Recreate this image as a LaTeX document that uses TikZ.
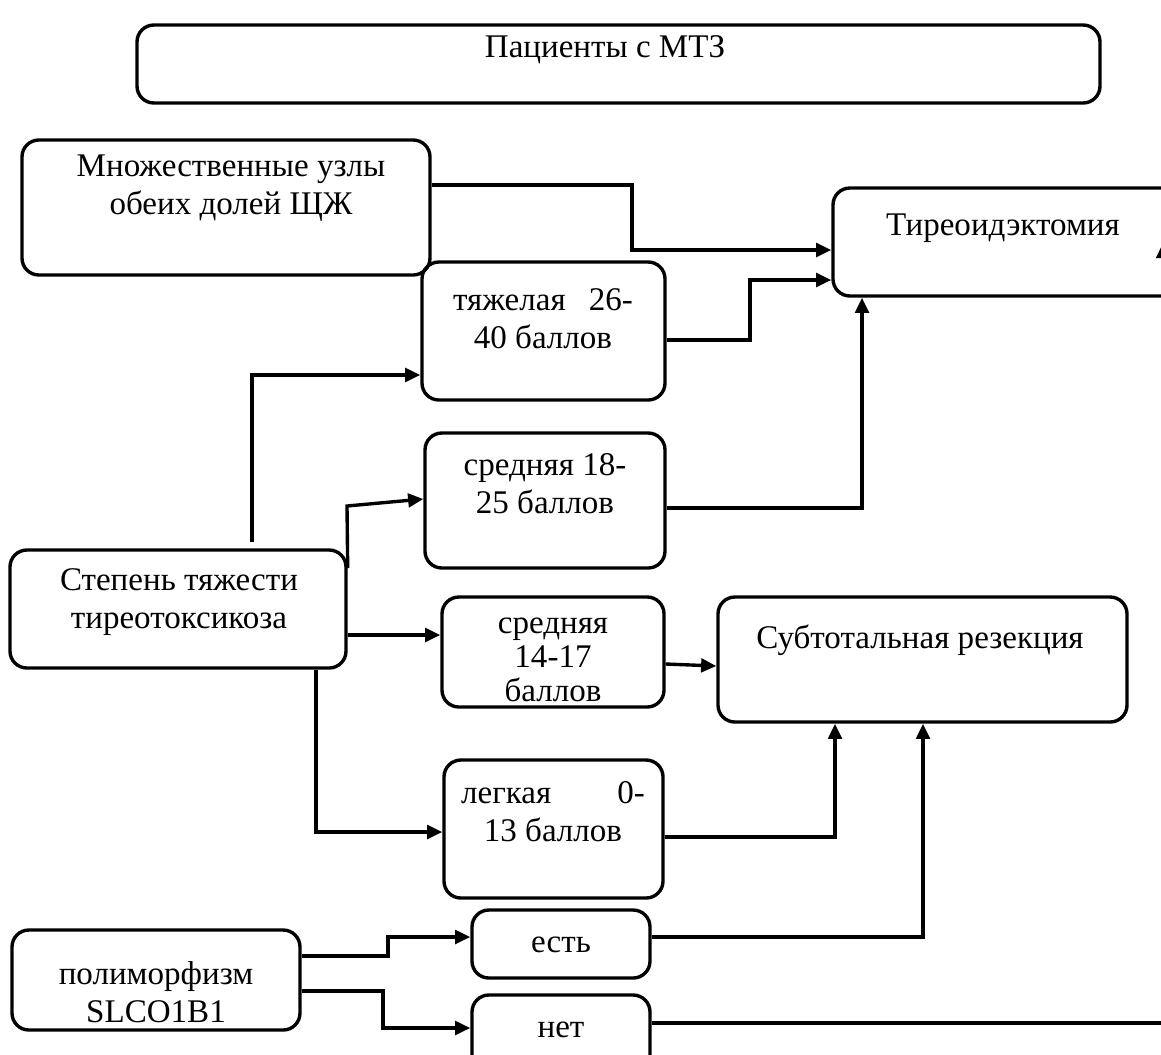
\documentclass[tikz,border=0pt]{standalone}
\usepackage{fontspec}
\setmainfont{Liberation Serif}
\usetikzlibrary{arrows.meta, positioning, fit}

\begin{document}
\begin{tikzpicture}[
    x=0.025cm, y=-0.025cm,
    block/.style={draw, line width=2.4pt, rounded corners=12pt, inner sep=0pt},
    caption/.style={align=center, inner sep=0pt, font=\fontsize{23.5}{27}\selectfont},
    link/.style={line width=2.4pt, -{Triangle[length=0.38cm, width=0.34cm]}},
]
    \useasboundingbox (0,0) rectangle (1161,1054);
    \clip (0,0) rectangle (1161,1054);
    \fill[white] (0,0) rectangle (1161,1054);

    % boxes
    \node[block, fit={(137,25) (1100,103)}] (pac) {};
    \node[block, fit={(22,140) (430,275)}] (mnozh) {};
    \node[block, fit={(833,188) (1180,296)}] (tireo) {};
    \node[block, fit={(422,262) (665,400)}] (tyazh) {};
    \node[block, fit={(425,433) (665,568)}] (sred1) {};
    \node[block, fit={(10,550) (346,668)}] (stepen) {};
    \node[block, fit={(442,597) (664,707)}] (sred2) {};
    \node[block, fit={(718,597) (1127,722)}] (subt) {};
    \node[block, fit={(444,760) (663,898)}] (legk) {};
    \node[block, fit={(472,910) (650,978)}] (est) {};
    \node[block, fit={(12,930) (300,1030)}] (polim) {};
    \node[block, fit={(472,995) (650,1080)}] (net) {};

    % texts
    \node[caption] (pac-t) at (605,50) {Пациенты с МТЗ};
    \node[caption] (mnozh-t) at (231,188) {Множественные узлы\\обеих долей ЩЖ};
    \node[caption] (tireo-t) at (1003,228) {Тиреоидэктомия};
    \node[caption] (tyazh-t) at (543,319) {тяжелая\hspace{0.7em}26-\\40 баллов};
    \node[caption] (sred1-t) at (545,484) {средняя 18-\\25 баллов};
    \node[caption] (stepen-t) at (179,602) {Степень тяжести\\тиреотоксикоза};
    \node[caption, font=\fontsize{23.5}{24}\selectfont] (sred2-t) at (553,660) {средняя\\14-17\\баллов};
    \node[caption] (subt-t) at (920,640) {Субтотальная резекция};
    \node[caption] (legk-t) at (553,812) {легкая\hspace{2em}0-\\13 баллов};
    \node[caption] (est-t) at (561,945) {есть};
    \node[caption] (polim-t) at (156,992) {полиморфизм\\SLCO1B1};
    \node[caption] (net-t) at (561,1030) {нет};

    \coordinate (edge) at (1163,243);

    % connectors
    \draw[link] (mnozh.east |- 0,185) -| (632,250) -- (tireo.west |- 0,250);
    \draw[link] (tyazh.east |- 0,340) -| (750,280) -- (tireo.west |- 0,280);
    \draw[link] (sred1.east |- 0,508) -| (tireo.south -| 862,0);
    \draw[link] (stepen.north -| 252,0) ++(0,-6) |- (tyazh.west |- 0,375);
    \draw[link] (stepen.east |- 0,568) -- (347,506) -- (sred1.west |- 0,499);
    \draw[link] (stepen.east |- 0,635) -- (sred2.west |- 0,635);
    \draw[link] (stepen.south -| 316,0) |- (legk.west |- 0,832);
    \draw[link] (sred2.east |- 0,664) -- (subt.west |- 0,666);
    \draw[link] (legk.east |- 0,837) -| (subt.south -| 835,0);
    \draw[link] (est.east |- 0,937) -| (subt.south -| 923,0);
    \draw[link] (polim.east |- 0,956) -| (388,937) -- (est.west |- 0,937);
    \draw[link] (polim.east |- 0,991) -| (383,1028) -- (net.west |- 0,1028);
    \draw[link] (net.east |- 0,1023) -| (edge);
\end{tikzpicture}
\end{document}
